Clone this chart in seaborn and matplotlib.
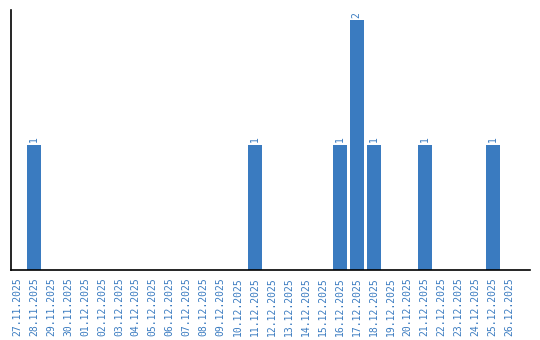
import matplotlib
matplotlib.use("Agg")
import matplotlib.pyplot as plt
import seaborn as sns
import pandas as pd

dates = ["27.11.2025", "28.11.2025", "29.11.2025", "30.11.2025", "01.12.2025",
         "02.12.2025", "03.12.2025", "04.12.2025", "05.12.2025", "06.12.2025",
         "07.12.2025", "08.12.2025", "09.12.2025", "10.12.2025", "11.12.2025",
         "12.12.2025", "13.12.2025", "14.12.2025", "15.12.2025", "16.12.2025",
         "17.12.2025", "18.12.2025", "19.12.2025", "20.12.2025", "21.12.2025",
         "22.12.2025", "23.12.2025", "24.12.2025", "25.12.2025", "26.12.2025"]
counts = [0, 1, 0, 0, 0, 0, 0, 0, 0, 0,
          0, 0, 0, 0, 1, 0, 0, 0, 0, 1,
          2, 1, 0, 0, 1, 0, 0, 0, 1, 0]

df = pd.DataFrame({"date": dates, "count": counts})

sns.set_theme(style="white")
plt.rcParams['font.family'] = ['DejaVu Sans Mono']

color = "#3a7bc0"
fig = plt.figure(figsize=(5.4, 3.4), dpi=100)
ax = fig.add_axes([11/540, 1-270/340, (530-11)/540, (270-10)/340])
sns.barplot(data=df, x="date", y="count", color=color, width=0.82, ax=ax,
            saturation=1, edgecolor="none")
ax.set_xlim(-0.35, 30.2)
ax.set_ylim(0, 2.08)
ax.set_xlabel("")
ax.set_ylabel("")
ax.set_yticks([])
ax.tick_params(axis="x", length=0, pad=5, labelsize=7, labelcolor=color, rotation=90)
for lbl in ax.get_xticklabels():
    lbl.set_verticalalignment("top")
for s in ["top", "right"]:
    ax.spines[s].set_visible(False)
for s in ["left", "bottom"]:
    ax.spines[s].set_color("black")
    ax.spines[s].set_linewidth(1.2)
for i, v in enumerate(counts):
    if v > 0:
        ax.text(i, v + 0.02, str(v), rotation=90, ha="center", va="bottom",
                fontsize=7, color=color)
fig.savefig("out.png", dpi=100)
